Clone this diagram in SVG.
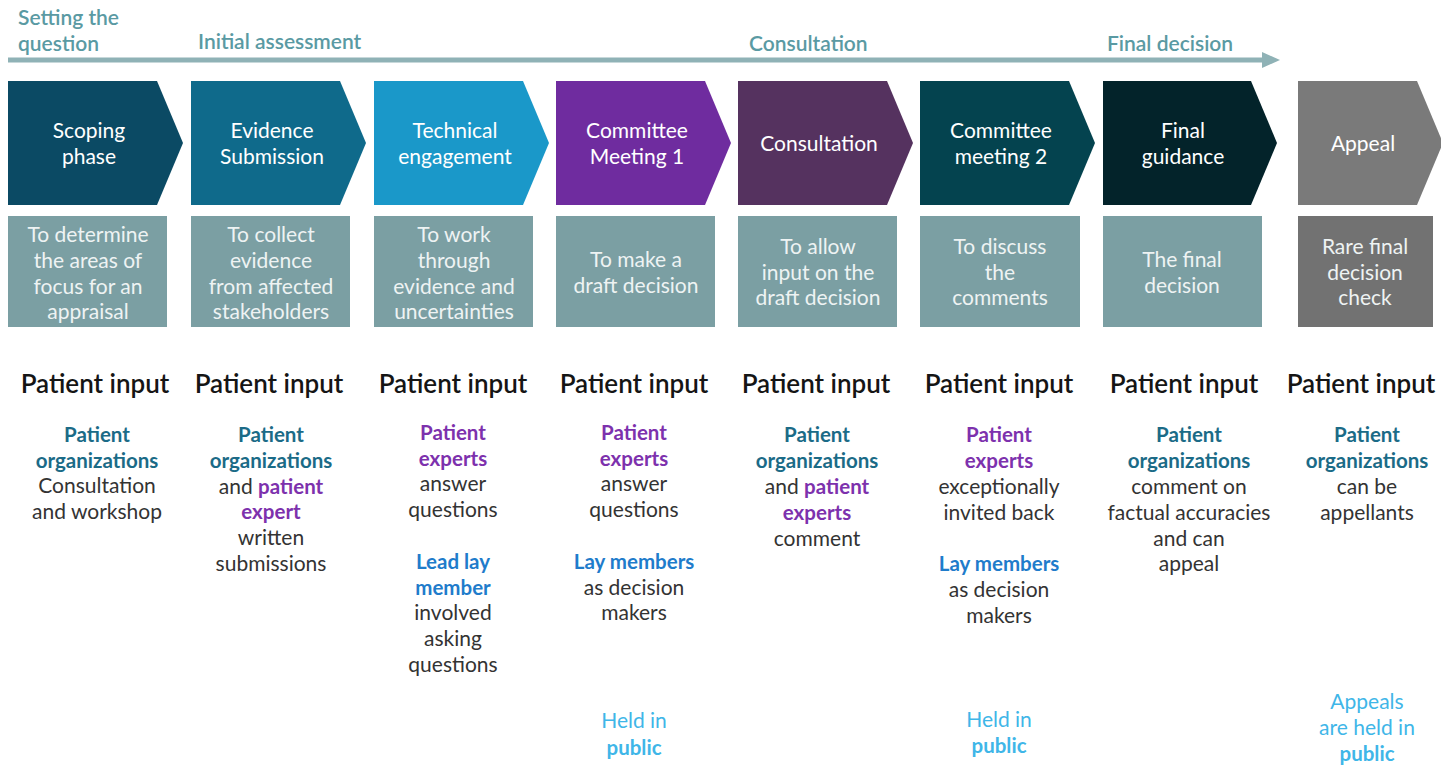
<svg xmlns="http://www.w3.org/2000/svg" width="1441" height="766" viewBox="0 0 1441 766">
  <defs>
    <style>
      text { font-family: Lato, "Liberation Sans", sans-serif; text-anchor: middle; }
      .stage { font-size: 21px; font-weight: 600; fill: #5a9aa3; text-anchor: start; }
      .chev { fill: #ffffff; font-size: 21px; }
      .desc-box { fill: #7b9fa3; }
      .desc { fill: #eef3f3; font-size: 21px; }
      .pi { fill: #151515; font-size: 26px; font-weight: 600; }
      .body { fill: #333333; font-size: 21px; }
      .org { fill: #1b6b87; font-weight: 700; font-size: 20.5px; }
      .exp { fill: #7d31ad; font-weight: 700; font-size: 20.5px; }
      .lay { fill: #1f7ccb; font-weight: 700; font-size: 20.5px; }
      .pub { fill: #3fb6e8; }
      .pubb { fill: #3fb6e8; font-weight: 700; font-size: 20.5px; }
    </style>
  </defs>
  <rect width="1441" height="766" fill="#ffffff"/>

  <!-- stage labels and timeline arrow -->
  <g id="timeline">
    <text class="stage" x="18" y="25">Setting the</text>
    <text class="stage" x="18" y="51">question</text>
    <text class="stage" x="198" y="49">Initial assessment</text>
    <text class="stage" x="749" y="51">Consultation</text>
    <text class="stage" x="1107" y="51">Final decision</text>
  </g>
  <g id="connectors">
    <line x1="8" y1="60" x2="1266" y2="60" stroke="#8fb2b6" stroke-width="5"/>
    <polygon points="1262,52 1280,60 1262,68" fill="#8fb2b6"/>
  </g>

  <!-- scoping -->
  <g id="scoping">
    <path d="M8,81 H157 L183,143 L157,205 H8 Z" fill="#0b4a64"/>
    <text class="chev" x="89" y="138">Scoping</text>
    <text class="chev" x="89" y="164">phase</text>
    <rect class="desc-box" x="8" y="216" width="159" height="111"/>
    <text class="desc" x="88" y="242">To determine</text>
    <text class="desc" x="88" y="268">the areas of</text>
    <text class="desc" x="88" y="294">focus for an</text>
    <text class="desc" x="88" y="319">appraisal</text>
    <text class="pi" x="95" y="393">Patient input</text>
    <text class="body" x="97" y="442"><tspan class="org">Patient</tspan></text>
    <text class="body" x="97" y="468"><tspan class="org">organizations</tspan></text>
    <text class="body" x="97" y="493">Consultation</text>
    <text class="body" x="97" y="519">and workshop</text>
  </g>

  <!-- evidence submission -->
  <g id="evidence">
    <path d="M191,81 H340 L366,143 L340,205 H191 Z" fill="#0f6a8b"/>
    <text class="chev" x="272" y="138">Evidence</text>
    <text class="chev" x="272" y="164">Submission</text>
    <rect class="desc-box" x="191" y="216" width="159" height="111"/>
    <text class="desc" x="271" y="242">To collect</text>
    <text class="desc" x="271" y="268">evidence</text>
    <text class="desc" x="271" y="294">from affected</text>
    <text class="desc" x="271" y="319">stakeholders</text>
    <text class="pi" x="269" y="393">Patient input</text>
    <text class="body" x="271" y="442"><tspan class="org">Patient</tspan></text>
    <text class="body" x="271" y="468"><tspan class="org">organizations</tspan></text>
    <text class="body" x="271" y="494">and <tspan class="exp">patient</tspan></text>
    <text class="body" x="271" y="519"><tspan class="exp">expert</tspan></text>
    <text class="body" x="271" y="545">written</text>
    <text class="body" x="271" y="571">submissions</text>
  </g>

  <!-- technical engagement -->
  <g id="technical">
    <path d="M374,81 H523 L549,143 L523,205 H374 Z" fill="#1a98c9"/>
    <text class="chev" x="455" y="138">Technical</text>
    <text class="chev" x="455" y="164">engagement</text>
    <rect class="desc-box" x="374" y="216" width="159" height="111"/>
    <text class="desc" x="454" y="242">To work</text>
    <text class="desc" x="454" y="268">through</text>
    <text class="desc" x="454" y="294">evidence and</text>
    <text class="desc" x="454" y="319">uncertainties</text>
    <text class="pi" x="453" y="393">Patient input</text>
    <text class="body" x="453" y="440"><tspan class="exp">Patient</tspan></text>
    <text class="body" x="453" y="466"><tspan class="exp">experts</tspan></text>
    <text class="body" x="453" y="491">answer</text>
    <text class="body" x="453" y="517">questions</text>
    <text class="body" x="453" y="569"><tspan class="lay">Lead lay</tspan></text>
    <text class="body" x="453" y="595"><tspan class="lay">member</tspan></text>
    <text class="body" x="453" y="620">involved</text>
    <text class="body" x="453" y="646">asking</text>
    <text class="body" x="453" y="672">questions</text>
  </g>

  <!-- committee meeting 1 -->
  <g id="committee1">
    <path d="M556,81 H705 L731,143 L705,205 H556 Z" fill="#6f2c9f"/>
    <text class="chev" x="637" y="138">Committee</text>
    <text class="chev" x="637" y="164">Meeting 1</text>
    <rect class="desc-box" x="556" y="216" width="159" height="111"/>
    <text class="desc" x="636" y="267">To make a</text>
    <text class="desc" x="636" y="293">draft decision</text>
    <text class="pi" x="634" y="393">Patient input</text>
    <text class="body" x="634" y="440"><tspan class="exp">Patient</tspan></text>
    <text class="body" x="634" y="466"><tspan class="exp">experts</tspan></text>
    <text class="body" x="634" y="491">answer</text>
    <text class="body" x="634" y="517">questions</text>
    <text class="body" x="634" y="569"><tspan class="lay">Lay members</tspan></text>
    <text class="body" x="634" y="595">as decision</text>
    <text class="body" x="634" y="620">makers</text>
    <text class="body" x="634" y="728"><tspan class="pub">Held in</tspan></text>
    <text class="body" x="634" y="755"><tspan class="pubb">public</tspan></text>
  </g>

  <!-- consultation -->
  <g id="consultation">
    <path d="M738,81 H887 L913,143 L887,205 H738 Z" fill="#55325f"/>
    <text class="chev" x="819" y="151">Consultation</text>
    <rect class="desc-box" x="738" y="216" width="159" height="111"/>
    <text class="desc" x="818" y="254">To allow</text>
    <text class="desc" x="818" y="280">input on the</text>
    <text class="desc" x="818" y="305">draft decision</text>
    <text class="pi" x="816" y="393">Patient input</text>
    <text class="body" x="817" y="442"><tspan class="org">Patient</tspan></text>
    <text class="body" x="817" y="468"><tspan class="org">organizations</tspan></text>
    <text class="body" x="817" y="494">and <tspan class="exp">patient</tspan></text>
    <text class="body" x="817" y="520"><tspan class="exp">experts</tspan></text>
    <text class="body" x="817" y="546">comment</text>
  </g>

  <!-- committee meeting 2 -->
  <g id="committee2">
    <path d="M920,81 H1069 L1095,143 L1069,205 H920 Z" fill="#04434f"/>
    <text class="chev" x="1001" y="138">Committee</text>
    <text class="chev" x="1001" y="164">meeting 2</text>
    <rect class="desc-box" x="920" y="216" width="160" height="111"/>
    <text class="desc" x="1000" y="254">To discuss</text>
    <text class="desc" x="1000" y="280">the</text>
    <text class="desc" x="1000" y="305">comments</text>
    <text class="pi" x="999" y="393">Patient input</text>
    <text class="body" x="999" y="442"><tspan class="exp">Patient</tspan></text>
    <text class="body" x="999" y="468"><tspan class="exp">experts</tspan></text>
    <text class="body" x="999" y="494">exceptionally</text>
    <text class="body" x="999" y="520">invited back</text>
    <text class="body" x="999" y="571"><tspan class="lay">Lay members</tspan></text>
    <text class="body" x="999" y="597">as decision</text>
    <text class="body" x="999" y="623">makers</text>
    <text class="body" x="999" y="727"><tspan class="pub">Held in</tspan></text>
    <text class="body" x="999" y="753"><tspan class="pubb">public</tspan></text>
  </g>

  <!-- final guidance -->
  <g id="final-guidance">
    <path d="M1103,81 H1251 L1277,143 L1251,205 H1103 Z" fill="#03232a"/>
    <text class="chev" x="1183" y="138">Final</text>
    <text class="chev" x="1183" y="164">guidance</text>
    <rect class="desc-box" x="1103" y="216" width="159" height="111"/>
    <text class="desc" x="1182" y="267">The final</text>
    <text class="desc" x="1182" y="293">decision</text>
    <text class="pi" x="1184" y="393">Patient input</text>
    <text class="body" x="1189" y="442"><tspan class="org">Patient</tspan></text>
    <text class="body" x="1189" y="468"><tspan class="org">organizations</tspan></text>
    <text class="body" x="1189" y="494">comment on</text>
    <text class="body" x="1189" y="520">factual accuracies</text>
    <text class="body" x="1189" y="546">and can</text>
    <text class="body" x="1189" y="571">appeal</text>
  </g>

  <!-- appeal -->
  <g id="appeal">
    <path d="M1298,81 H1417 L1443,143 L1417,205 H1298 Z" fill="#7a7a7a"/>
    <text class="chev" x="1363" y="151">Appeal</text>
    <rect x="1298" y="216" width="135" height="111" fill="#727272"/>
    <text class="desc" x="1365" y="254">Rare final</text>
    <text class="desc" x="1365" y="280">decision</text>
    <text class="desc" x="1365" y="305">check</text>
    <text class="pi" x="1361" y="393">Patient input</text>
    <text class="body" x="1367" y="442"><tspan class="org">Patient</tspan></text>
    <text class="body" x="1367" y="468"><tspan class="org">organizations</tspan></text>
    <text class="body" x="1367" y="494">can be</text>
    <text class="body" x="1367" y="520">appellants</text>
    <text class="body" x="1367" y="709"><tspan class="pub">Appeals</tspan></text>
    <text class="body" x="1367" y="735"><tspan class="pub">are held in</tspan></text>
    <text class="body" x="1367" y="761"><tspan class="pubb">public</tspan></text>
  </g>
</svg>
